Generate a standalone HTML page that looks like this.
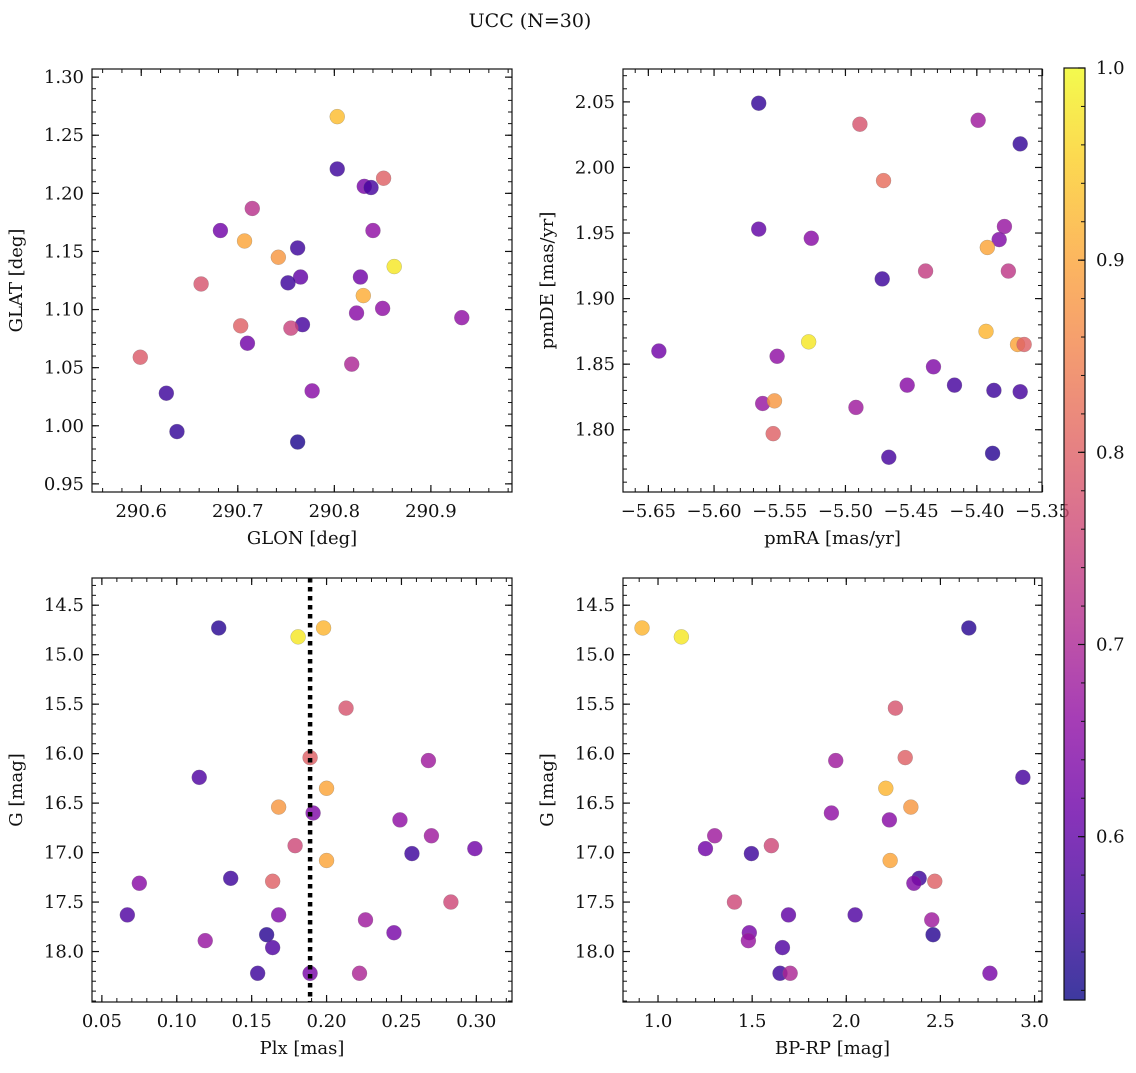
<!DOCTYPE html>
<html><head><meta charset="utf-8"><style>
body{margin:0;background:#fff;}
svg text{font-family:"DejaVu Serif","Liberation Serif",serif;fill:#111;}
</style></head><body>
<svg id="fig" width="1136" height="1068" xmlns="http://www.w3.org/2000/svg">
<defs>
<linearGradient id="plasma" x1="0" y1="1" x2="0" y2="0">
<stop offset="0" stop-color="#0d0887"/><stop offset="0.1" stop-color="#41049d"/><stop offset="0.2" stop-color="#6a00a8"/><stop offset="0.3" stop-color="#8f0da4"/><stop offset="0.4" stop-color="#b12a90"/><stop offset="0.5" stop-color="#cc4778"/><stop offset="0.6" stop-color="#e16462"/><stop offset="0.7" stop-color="#f2844b"/><stop offset="0.8" stop-color="#fca636"/><stop offset="0.9" stop-color="#fcce25"/><stop offset="1" stop-color="#f0f921"/>
</linearGradient>
</defs>
<text x="530" y="27" font-size="19" text-anchor="middle">UCC (N=30)</text>
</svg>
<script>
// Panel 1: GLON vs GLAT
const glon=[290.803,290.803,290.851,290.831,290.838,290.715,290.682,290.840,290.707,290.762,290.742,290.862,290.765,290.827,290.662,290.752,290.830,290.850,290.823,290.932,290.703,290.767,290.755,290.710,290.599,290.818,290.777,290.626,290.637,290.762];
const glat=[1.266,1.221,1.213,1.206,1.205,1.187,1.168,1.168,1.159,1.153,1.145,1.137,1.128,1.128,1.122,1.123,1.112,1.101,1.097,1.093,1.086,1.087,1.084,1.071,1.059,1.053,1.030,1.028,0.995,0.986];
const prob1=[0.93,0.56,0.80,0.63,0.57,0.72,0.62,0.66,0.90,0.56,0.88,0.98,0.60,0.62,0.78,0.56,0.91,0.66,0.65,0.66,0.80,0.57,0.75,0.62,0.79,0.70,0.65,0.56,0.55,0.53];
// Panel 2: pmRA vs pmDE
const pmra=[-5.566,-5.489,-5.399,-5.367,-5.471,-5.566,-5.526,-5.379,-5.383,-5.392,-5.439,-5.376,-5.472,-5.393,-5.528,-5.369,-5.364,-5.642,-5.552,-5.433,-5.453,-5.417,-5.387,-5.367,-5.563,-5.554,-5.492,-5.555,-5.467,-5.388];
const pmde=[2.049,2.033,2.036,2.018,1.990,1.953,1.946,1.955,1.945,1.939,1.921,1.921,1.915,1.875,1.867,1.865,1.865,1.860,1.856,1.848,1.834,1.834,1.830,1.829,1.820,1.822,1.817,1.797,1.779,1.782];
const prob2=[0.55,0.78,0.68,0.55,0.82,0.60,0.65,0.67,0.64,0.90,0.74,0.73,0.56,0.92,0.98,0.90,0.80,0.62,0.66,0.64,0.65,0.57,0.56,0.57,0.67,0.88,0.68,0.80,0.57,0.54];
// Panel 3: Plx vs G
const plx=[0.128,0.181,0.198,0.213,0.189,0.268,0.115,0.200,0.168,0.191,0.249,0.270,0.179,0.299,0.257,0.200,0.136,0.075,0.164,0.283,0.067,0.168,0.226,0.245,0.160,0.119,0.164,0.154,0.189,0.222];
const gmag3=[14.73,14.82,14.73,15.54,16.04,16.07,16.24,16.35,16.54,16.60,16.67,16.83,16.93,16.96,17.01,17.08,17.26,17.31,17.29,17.50,17.63,17.63,17.68,17.81,17.83,17.89,17.96,18.22,18.22,18.22];
const prob3=[0.54,0.98,0.92,0.78,0.80,0.68,0.58,0.90,0.88,0.64,0.66,0.68,0.76,0.62,0.56,0.90,0.56,0.65,0.80,0.76,0.58,0.64,0.68,0.63,0.54,0.67,0.58,0.56,0.63,0.70];
const plxLine=0.189;
// Panel 4: BP-RP vs G
const bprp=[0.915,1.124,2.651,2.261,2.313,1.944,2.938,2.210,2.343,1.921,2.229,1.301,1.602,1.252,1.496,2.233,2.387,2.359,2.470,1.406,1.693,2.047,2.454,1.485,2.461,1.480,1.661,1.648,1.702,2.763];
const gmag4=[14.73,14.82,14.73,15.54,16.04,16.07,16.24,16.35,16.54,16.60,16.67,16.83,16.93,16.96,17.01,17.08,17.26,17.31,17.29,17.50,17.63,17.63,17.68,17.81,17.83,17.89,17.96,18.22,18.22,18.22];
const prob4=[0.92,0.98,0.54,0.78,0.80,0.68,0.57,0.92,0.88,0.66,0.65,0.68,0.76,0.62,0.56,0.90,0.56,0.64,0.80,0.76,0.60,0.58,0.68,0.63,0.54,0.67,0.58,0.56,0.70,0.63];
// tick labels
const xt1=[290.6,290.7,290.8,290.9], yt1=[0.95,1.00,1.05,1.10,1.15,1.20,1.25,1.30];
const xt2=[-5.65,-5.60,-5.55,-5.50,-5.45,-5.40,-5.35], yt2=[1.80,1.85,1.90,1.95,2.00,2.05];
const xt3=[0.05,0.10,0.15,0.20,0.25,0.30], ytG=[14.5,15.0,15.5,16.0,16.5,17.0,17.5,18.0];
const xt4=[1.0,1.5,2.0,2.5,3.0];
const cbTicks=[0.6,0.7,0.8,0.9,1.0];
const cMin=0.515,cMax=1.0;

const FS=18;
const NS="http://www.w3.org/2000/svg";
const svg=document.getElementById('fig');
function mk(tag,attrs,parent){const e=document.createElementNS(NS,tag);for(const k in attrs)e.setAttribute(k,attrs[k]);(parent||svg).appendChild(e);return e;}
const stops=[[13,8,135],[65,4,157],[106,0,168],[143,13,164],[177,42,144],[204,71,120],[225,100,98],[242,132,75],[252,166,54],[252,206,37],[240,249,33]];
function plasma(v){let t=(v-cMin)/(cMax-cMin);t=Math.max(0,Math.min(1,t))*10;const i=Math.min(9,Math.floor(t)),f=t-i;const a=stops[i],b=stops[i+1];return 'rgb('+[0,1,2].map(k=>Math.round(a[k]+(b[k]-a[k])*f)).join(',')+')';}
function fmt(v,d){let s=v.toFixed(d);return s.replace('-','\u2212');}

function panel(name,box,xd,yd,xticks,xdec,xminor,yticks,ydec,yminor,xlab,ylab,xs,ys,cs,vline){
  const [L,T,R,B]=box;
  const g=mk('g',{});
  
  
  const sx=v=>L+(v-xd[0])/(xd[1]-xd[0])*(R-L);
  const sy=v=>T+(yd[1]-v)/(yd[1]-yd[0])*(B-T);
  const clip='clip-'+name;
  const cp=mk('clipPath',{id:clip},g);mk('rect',{x:L,y:T,width:R-L,height:B-T},cp);
  const pts=mk('g',{'clip-path':'url(#'+clip+')'},g);
  for(let i=0;i<xs.length;i++){
    const c=mk('circle',{cx:sx(xs[i]),cy:sy(ys[i]),r:7.5,fill:plasma(cs[i]),'fill-opacity':0.82,stroke:'#777','stroke-width':0.4,'stroke-opacity':0.6},pts);
    
    
  }
  if(vline!==undefined){
    const l=mk('line',{x1:sx(vline),x2:sx(vline),y1:T,y2:B,stroke:'#000','stroke-width':4.5,'stroke-dasharray':'4.5,4.5'},pts);
    
    
  }
  mk('rect',{x:L,y:T,width:R-L,height:B-T,fill:'none',stroke:'#111','stroke-width':1.2},g);
  const eps=1e-9;
  let start=Math.ceil((xd[0]-eps)/xminor);
  for(let k=start;k*xminor<=xd[1];k++){const v=k*xminor,x=sx(v);mk('line',{x1:x,x2:x,y1:B,y2:B-4,stroke:'#111','stroke-width':1},g);mk('line',{x1:x,x2:x,y1:T,y2:T+4,stroke:'#111','stroke-width':1},g);}
  start=Math.ceil((yd[0]-eps)/yminor);
  for(let k=start;k*yminor<=yd[1];k++){const v=k*yminor,y=sy(v);mk('line',{x1:L,x2:L+4,y1:y,y2:y,stroke:'#111','stroke-width':1},g);mk('line',{x1:R,x2:R-4,y1:y,y2:y,stroke:'#111','stroke-width':1},g);}
  xticks.forEach(v=>{const x=sx(v);mk('line',{x1:x,x2:x,y1:B,y2:B-7,stroke:'#111','stroke-width':1.2},g);mk('line',{x1:x,x2:x,y1:T,y2:T+7,stroke:'#111','stroke-width':1.2},g);
    const t=mk('text',{x:x,y:B+25,'font-size':FS,'text-anchor':'middle'},g);t.textContent=fmt(v,xdec);
    });
  yticks.forEach(v=>{const y=sy(v);mk('line',{x1:L,x2:L+7,y1:y,y2:y,stroke:'#111','stroke-width':1.2},g);mk('line',{x1:R,x2:R-7,y1:y,y2:y,stroke:'#111','stroke-width':1.2},g);
    const t=mk('text',{x:L-8,y:y+6,'font-size':FS,'text-anchor':'end'},g);t.textContent=fmt(v,ydec);
    });
  const xl=mk('text',{x:(L+R)/2,y:B+52,'font-size':FS,'text-anchor':'middle'},g);xl.textContent=xlab;
  
  const cx=L-70,cy=(T+B)/2;
  const yl=mk('text',{x:cx,y:cy,'font-size':FS,'text-anchor':'middle',transform:'rotate(-90 '+cx+' '+cy+')'},g);yl.textContent=ylab;
  
}
panel('glon-glat-panel',[92,69,512,492],[290.549,290.984],[0.943,1.307],xt1,1,0.02,yt1,2,0.01,'GLON [deg]','GLAT [deg]',glon,glat,prob1);
panel('pm-panel',[623,69,1042,492],[-5.6693,-5.3504],[1.7525,2.0751],xt2,2,0.01,yt2,2,0.01,'pmRA [mas/yr]','pmDE [mas/yr]',pmra,pmde,prob2);
panel('plx-g-panel',[92,578,512,1002],[0.0434,0.3238],[-18.51,-14.225],xt3,2,0.01,[],1,0.1,'Plx [mas]','G [mag]',plx,gmag3.map(v=>-v),prob3,plxLine);
panel('cmd-panel',[623,578,1042,1002],[0.814,3.0396],[-18.51,-14.225],xt4,1,0.1,[],1,0.1,'BP-RP [mag]','G [mag]',bprp,gmag4.map(v=>-v),prob4);
[[92,512],[623,1042]].forEach(([L,R])=>{
  ytG.forEach(v=>{const y=578+(v-14.225)/(18.51-14.225)*(1002-578);
    mk('line',{x1:L,x2:L+7,y1:y,y2:y,stroke:'#111','stroke-width':1.2});mk('line',{x1:R,x2:R-7,y1:y,y2:y,stroke:'#111','stroke-width':1.2});
    const t=mk('text',{x:L-8,y:y+6,'font-size':FS,'text-anchor':'end'});t.textContent=v.toFixed(1);
    
    });
});
const cbT=68,cbB=1000,cbL=1064,cbR=1085;
const cb=mk('g',{});


mk('rect',{x:cbL,y:cbT,width:cbR-cbL,height:cbB-cbT,fill:'url(#plasma)','fill-opacity':0.8},cb);
mk('rect',{x:cbL,y:cbT,width:cbR-cbL,height:cbB-cbT,fill:'none',stroke:'#111','stroke-width':1.2},cb);
const cby=v=>cbB-(v-cMin)/(cMax-cMin)*(cbB-cbT);
for(let k=26;k<=50;k++){const v=k*0.02;if(v<cMin)continue;const y=cby(v);mk('line',{x1:cbR,x2:cbR-4,y1:y,y2:y,stroke:'#111','stroke-width':1},cb);}
cbTicks.forEach(v=>{const y=cby(v);mk('line',{x1:cbR,x2:cbR-7,y1:y,y2:y,stroke:'#111','stroke-width':1.2},cb);
  const t=mk('text',{x:cbR+11,y:y+6,'font-size':FS},cb);t.textContent=v.toFixed(1);
  
  });
</script>
</body></html>
